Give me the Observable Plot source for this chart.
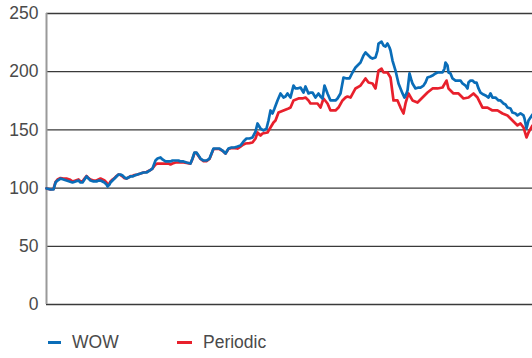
<!DOCTYPE html>
<html>
<head>
<meta charset="utf-8">
<script src="https://cdn.jsdelivr.net/npm/d3@7"></script>
<script src="https://cdn.jsdelivr.net/npm/@observablehq/plot@0.6"></script>
<style>
  html, body { margin: 0; padding: 0; background: #fff; }
  body { width: 532px; height: 358px; overflow: hidden; font-family: "Liberation Sans", Arial, sans-serif; position: relative; }
  #chart { position: absolute; left: 0; top: 0; }
  #legend { position: absolute; left: 0; top: 332px; font-size: 17.5px; color: #4a4a4a; }
  .item { position: absolute; white-space: nowrap; display: flex; align-items: center; }
  .sw { display: inline-block; width: 14px; height: 3px; margin-right: 11px; }
</style>
</head>
<body>
<div id="chart"></div>
<div id="legend"></div>
<script>
const seriesNames = ["WOW", "Periodic"];
const seriesColors = ["#0A6DB8", "#E8202C"];
const yTicks = [0, 50, 100, 150, 200, 250];

// WOW: [time index, value]
const wow = [
[0,99.7],[4,98.8],[7,98.8],[9,104.8],[11,106.5],[14,108.2],[17,107.4],[20,106.5],[23,105.7],[26,104.8],
[29,105.7],[32,106.5],[34,104.8],[36,104.8],[38,107.4],[40,110.0],[42,108.2],[44,106.5],[47,105.7],[50,105.7],
[52,106.5],[54,106.5],[56,105.7],[58,104.8],[60,103.1],[61,101.4],[63,103.1],[64,104.8],[66,106.5],[68,108.2],
[70,110.0],[72,111.7],[74,111.7],[76,110.8],[78,109.1],[80,108.2],[82,109.1],[84,110.0],[86,110.0],[88,110.8],
[91,111.7],[94,112.5],[97,113.4],[100,113.4],[103,115.1],[106,116.8],[109,123.7],[111,125.4],[114,126.3],[116,124.6],
[119,122.9],[122,122.9],[124,122.9],[126,123.7],[129,123.7],[132,123.7],[134,122.9],[137,122.9],[140,122.0],[144,121.1],
[146,125.4],[148,130.6],[150,130.6],[152,128.0],[154,125.4],[157,123.7],[160,123.7],[163,125.4],[165,129.7],[167,134.0],
[170,134.0],[173,134.0],[176,132.3],[179,129.7],[182,134.0],[185,134.9],[188,134.9],[191,135.7],[194,136.6],[197,140.0],
[200,142.6],[203,142.6],[206,143.5],[209,148.6],[211,155.5],[214,151.2],[217,149.5],[220,151.2],[222,158.1],[224,166.7],
[226,164.1],[228,168.4],[231,175.3],[234,181.3],[237,177.8],[239,178.7],[241,181.3],[244,177.8],[247,188.1],[249,185.6],
[251,185.6],[254,186.4],[257,182.1],[259,187.3],[262,181.3],[264,182.1],[266,182.1],[269,177.8],[272,181.3],[274,178.7],
[276,177.0],[278,188.1],[281,181.3],[284,175.3],[287,175.3],[289,175.3],[291,177.0],[294,181.3],[297,195.0],[300,194.2],
[303,194.2],[306,199.3],[309,203.6],[312,206.2],[314,207.9],[317,213.9],[319,216.5],[322,213.9],[324,212.2],[326,211.3],
[329,212.2],[331,218.2],[332,224.2],[335,225.9],[337,222.5],[339,221.6],[341,224.2],[343,220.8],[344,218.2],[346,209.6],
[349,201.0],[352,189.9],[354,185.6],[356,181.3],[358,177.8],[360,181.3],[361,183.8],[363,198.5],[365,192.4],[366,189.9],
[369,185.6],[372,186.4],[374,186.4],[377,188.1],[379,190.7],[381,195.0],[384,195.9],[386,196.7],[389,198.5],[391,199.3],
[394,199.3],[396,199.3],[398,202.7],[399,207.9],[401,205.3],[402,199.3],[404,198.5],[406,194.2],[409,192.4],[412,192.4],
[414,192.4],[416,189.9],[419,188.1],[421,185.6],[422,190.7],[424,192.4],[426,192.4],[428,190.7],[430,190.7],[432,185.6],
[434,182.1],[437,180.4],[439,179.6],[442,177.8],[444,181.3],[446,177.8],[449,177.8],[452,175.3],[454,175.3],[457,172.7],
[459,171.8],[461,169.2],[464,168.4],[466,164.9],[469,164.1],[471,162.4],[474,164.1],[477,162.4],[478,159.8],[480,151.2],
[482,158.1],[484,160.7],[486,163.2]
];

// Periodic: [time index, value]
const periodic = [
[0,99.7],[4,98.8],[7,99.2],[9,105.2],[11,107.4],[14,108.6],[17,108.2],[20,108.2],[23,107.4],[26,105.7],
[29,106.5],[32,107.4],[34,105.7],[36,105.7],[38,108.2],[40,110.4],[42,108.6],[44,107.4],[47,106.5],[50,106.5],
[52,107.4],[54,108.2],[56,107.4],[58,106.5],[60,104.8],[61,103.1],[63,104.0],[64,105.7],[66,107.4],[68,108.6],
[70,110.4],[72,111.7],[74,111.2],[76,110.0],[78,108.6],[80,108.2],[82,109.1],[84,110.4],[86,110.4],[88,111.2],
[91,111.7],[94,112.5],[97,113.4],[100,113.8],[103,115.1],[106,116.8],[109,120.3],[111,121.1],[114,121.1],[116,121.1],
[119,121.1],[122,121.1],[124,120.3],[126,121.1],[129,122.0],[132,122.0],[134,122.0],[137,122.0],[140,121.6],[144,121.1],
[146,125.0],[148,130.2],[150,130.2],[152,127.5],[154,125.0],[157,123.2],[160,123.2],[163,125.0],[165,129.2],[167,133.6],
[170,133.6],[173,133.6],[176,132.0],[179,129.7],[182,133.6],[185,134.4],[188,134.4],[191,134.0],[194,135.7],[197,137.5],
[199,138.3],[203,138.7],[206,139.2],[209,142.6],[211,147.8],[214,145.2],[216,146.9],[221,147.8],[224,152.1],[227,156.4],
[229,158.1],[232,164.9],[237,166.7],[242,168.4],[244,169.2],[247,175.3],[252,177.0],[256,177.0],[259,177.8],[262,175.3],
[264,172.7],[267,172.7],[271,172.7],[274,169.2],[277,177.0],[281,172.7],[284,166.7],[289,166.7],[292,169.2],[296,175.3],
[299,177.8],[301,178.7],[304,177.8],[309,185.6],[314,188.1],[319,194.2],[322,190.7],[326,189.9],[329,185.6],[332,201.0],
[335,202.7],[337,199.3],[341,199.3],[344,195.0],[347,175.3],[351,175.3],[354,169.2],[357,164.1],[359,172.7],[362,181.3],
[366,175.3],[371,173.5],[376,177.8],[381,182.1],[386,185.6],[391,185.6],[396,186.4],[400,192.4],[402,185.6],[407,181.3],
[412,181.3],[417,177.0],[422,177.8],[427,181.3],[431,177.8],[436,169.2],[441,169.2],[446,166.7],[451,166.7],[456,164.1],
[461,162.4],[466,158.1],[471,153.8],[474,155.5],[477,152.1],[480,143.5],[482,147.8],[486,153.8]
];

const rows = [
  ...periodic.map(([t, v]) => ({t, v, s: "Periodic"})),
  ...wow.map(([t, v]) => ({t, v, s: "WOW"}))
];

const chart = Plot.plot({
  width: 532,
  height: 322,
  marginLeft: 46,
  marginRight: 0,
  marginTop: 13,
  marginBottom: 18,
  style: { fontFamily: "Liberation Sans, Arial, sans-serif", fontSize: "17.5px", color: "#4a4a4a", background: "#fff" },
  x: { domain: [0, 486], axis: null },
  y: { domain: [0, 250], ticks: yTicks, tickSize: 0, tickPadding: 8, label: null },
  color: { domain: seriesNames, range: seriesColors },
  marks: [
    Plot.ruleY(yTicks, { stroke: "#3a3a3a", strokeWidth: 1.3 }),
    Plot.ruleX([0], { stroke: "#9a9a9a", strokeWidth: 2 }),
    Plot.line(rows.filter(d => d.s === "Periodic"), { x: "t", y: "v", stroke: "s", strokeWidth: 2.7, strokeLinejoin: "round" }),
    Plot.line(rows.filter(d => d.s === "WOW"), { x: "t", y: "v", stroke: "s", strokeWidth: 2.7, strokeLinejoin: "round" })
  ]
});
document.getElementById("chart").appendChild(chart);

const legend = document.getElementById("legend");
const legendLeft = [48, 177];
seriesNames.forEach((name, i) => {
  const el = document.createElement("div");
  el.className = "item";
  el.style.left = legendLeft[i] + "px";
  el.innerHTML = `<span class="sw" style="background:${seriesColors[i]};width:${i ? 15 : 13}px"></span><span>${name}</span>`;
  legend.appendChild(el);
});
</script>
</body>
</html>
